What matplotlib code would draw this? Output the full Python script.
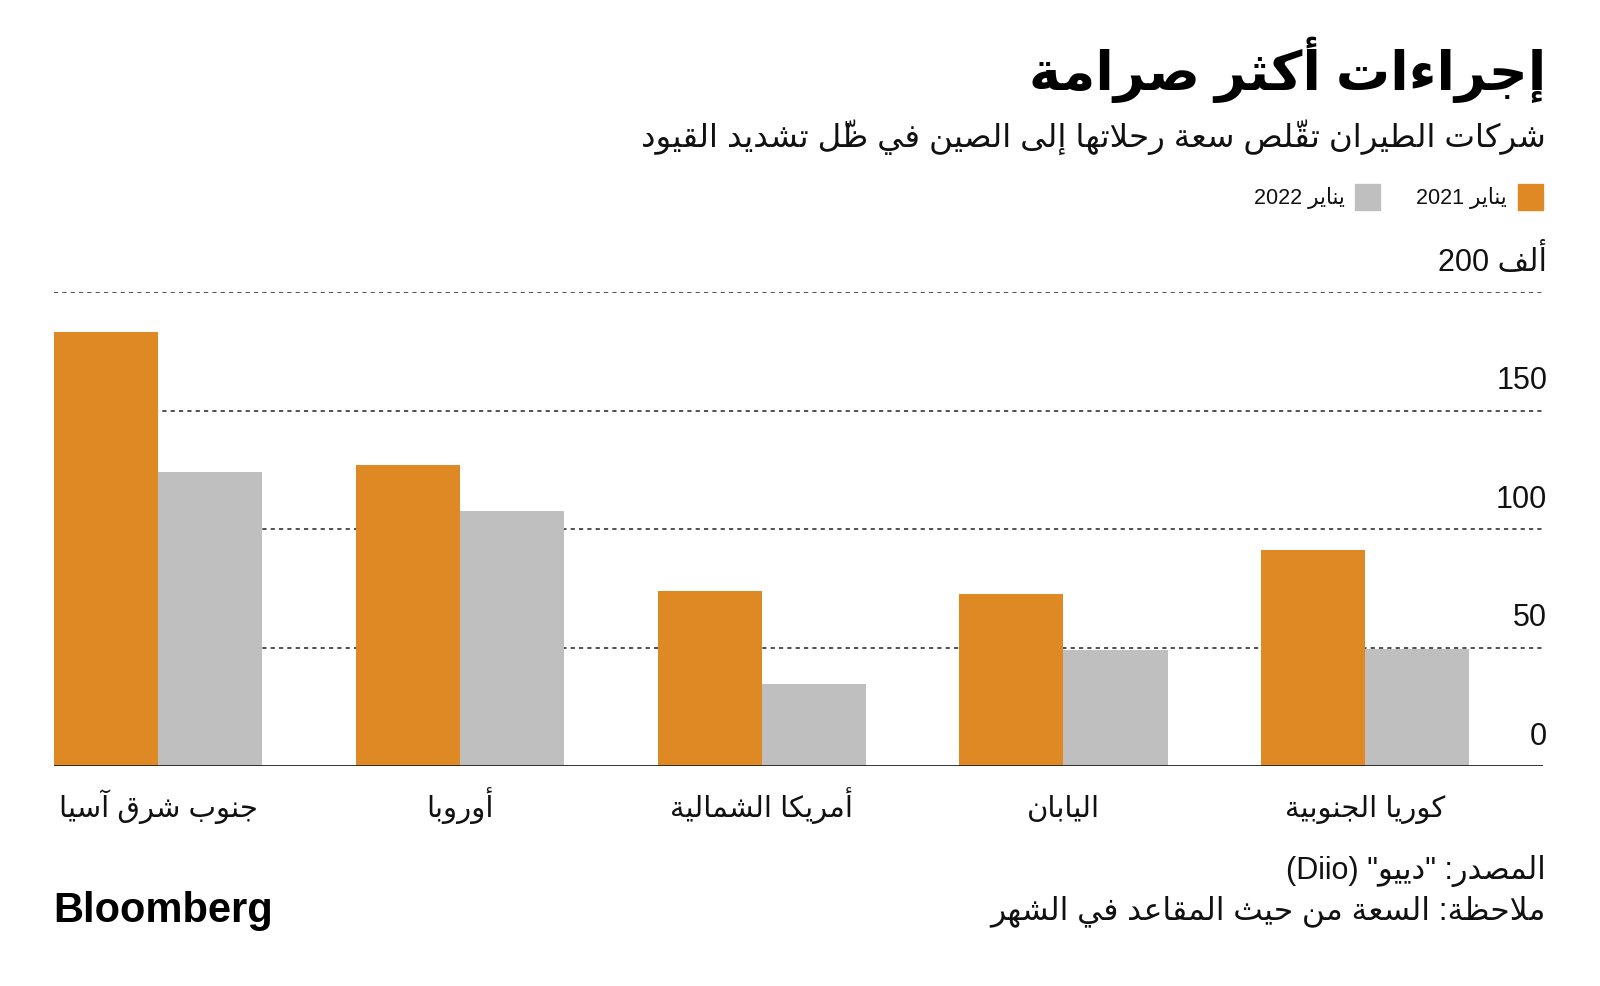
import matplotlib
matplotlib.use('Agg')
import matplotlib.pyplot as plt
import numpy as np

# البيانات (بالألف مقعد شهرياً)
regions = ['جنوب شرق آسيا', 'أوروبا', 'أمريكا الشمالية', 'اليابان', 'كوريا الجنوبية']
jan_2021 = [183, 127, 74, 72.5, 91]
jan_2022 = [124, 107.5, 34.5, 49, 49.5]
series_names = ['يناير 2021', 'يناير 2022']
y_ticks = [0, 50, 100, 150, 200]
y_tick_labels = ['0', '50', '100', '150', 'ألف 200']

title = 'إجراءات أكثر صرامة'
subtitle = 'شركات الطيران تقلّص سعة رحلاتها إلى الصين في ظلّ تشديد القيود'
source = 'المصدر: "دييو" (Diio)'
note = 'ملاحظة: السعة من حيث المقاعد في الشهر'

ORANGE = '#DE8923'
GREY = '#BFBFBF'

# تشكيل الحروف العربية يدوياً (matplotlib لا يقوم بذلك)
# (منفصل، نهائي، بدائي، وسطي)
FORMS = {
    '\u0621': ('\uFE80', None, None, None),
    '\u0622': ('\uFE81', '\uFE82', None, None),
    '\u0623': ('\uFE83', '\uFE84', None, None),
    '\u0624': ('\uFE85', '\uFE86', None, None),
    '\u0625': ('\uFE87', '\uFE88', None, None),
    '\u0626': ('\uFE89', '\uFE8A', '\uFE8B', '\uFE8C'),
    '\u0627': ('\uFE8D', '\uFE8E', None, None),
    '\u0628': ('\uFE8F', '\uFE90', '\uFE91', '\uFE92'),
    '\u0629': ('\uFE93', '\uFE94', None, None),
    '\u062A': ('\uFE95', '\uFE96', '\uFE97', '\uFE98'),
    '\u062B': ('\uFE99', '\uFE9A', '\uFE9B', '\uFE9C'),
    '\u062C': ('\uFE9D', '\uFE9E', '\uFE9F', '\uFEA0'),
    '\u062D': ('\uFEA1', '\uFEA2', '\uFEA3', '\uFEA4'),
    '\u062E': ('\uFEA5', '\uFEA6', '\uFEA7', '\uFEA8'),
    '\u062F': ('\uFEA9', '\uFEAA', None, None),
    '\u0630': ('\uFEAB', '\uFEAC', None, None),
    '\u0631': ('\uFEAD', '\uFEAE', None, None),
    '\u0632': ('\uFEAF', '\uFEB0', None, None),
    '\u0633': ('\uFEB1', '\uFEB2', '\uFEB3', '\uFEB4'),
    '\u0634': ('\uFEB5', '\uFEB6', '\uFEB7', '\uFEB8'),
    '\u0635': ('\uFEB9', '\uFEBA', '\uFEBB', '\uFEBC'),
    '\u0636': ('\uFEBD', '\uFEBE', '\uFEBF', '\uFEC0'),
    '\u0637': ('\uFEC1', '\uFEC2', '\uFEC3', '\uFEC4'),
    '\u0638': ('\uFEC5', '\uFEC6', '\uFEC7', '\uFEC8'),
    '\u0639': ('\uFEC9', '\uFECA', '\uFECB', '\uFECC'),
    '\u063A': ('\uFECD', '\uFECE', '\uFECF', '\uFED0'),
    '\u0641': ('\uFED1', '\uFED2', '\uFED3', '\uFED4'),
    '\u0642': ('\uFED5', '\uFED6', '\uFED7', '\uFED8'),
    '\u0643': ('\uFED9', '\uFEDA', '\uFEDB', '\uFEDC'),
    '\u0644': ('\uFEDD', '\uFEDE', '\uFEDF', '\uFEE0'),
    '\u0645': ('\uFEE1', '\uFEE2', '\uFEE3', '\uFEE4'),
    '\u0646': ('\uFEE5', '\uFEE6', '\uFEE7', '\uFEE8'),
    '\u0647': ('\uFEE9', '\uFEEA', '\uFEEB', '\uFEEC'),
    '\u0648': ('\uFEED', '\uFEEE', None, None),
    '\u0649': ('\uFEEF', '\uFEF0', None, None),
    '\u064A': ('\uFEF1', '\uFEF2', '\uFEF3', '\uFEF4'),
}
LAM_ALEF = {'\u0622': ('\uFEF5', '\uFEF6'), '\u0623': ('\uFEF7', '\uFEF8'),
            '\u0625': ('\uFEF9', '\uFEFA'), '\u0627': ('\uFEFB', '\uFEFC')}
MIRROR = {'(': ')', ')': '('}


def is_mark(c):
    return '\u064B' <= c <= '\u0652'


def shape(s):
    chars = list(s)
    # دمج لام-ألف
    merged = []
    i = 0
    while i < len(chars):
        c = chars[i]
        if c == '\u0644' and i + 1 < len(chars) and chars[i + 1] in LAM_ALEF:
            merged.append(('LA', chars[i + 1]))
            i += 2
        else:
            merged.append(c)
            i += 1

    def dual(item):
        if isinstance(item, tuple):
            return False
        return item in FORMS and FORMS[item][2] is not None

    def joins(item):
        return isinstance(item, tuple) or item in FORMS and item != '\u0621'

    out = []
    for k, item in enumerate(merged):
        if isinstance(item, str) and is_mark(item):
            out.append(item)
            continue
        # الحرف السابق واللاحق مع تجاوز الحركات
        p = k - 1
        while p >= 0 and isinstance(merged[p], str) and is_mark(merged[p]):
            p -= 1
        n = k + 1
        while n < len(merged) and isinstance(merged[n], str) and is_mark(merged[n]):
            n += 1
        prev_j = p >= 0 and dual(merged[p])
        if isinstance(item, tuple):
            iso, fin = LAM_ALEF[item[1]]
            out.append(fin if prev_j else iso)
            continue
        if item not in FORMS:
            out.append(item)
            continue
        next_j = dual(item) and n < len(merged) and joins(merged[n])
        iso, fin, ini, med = FORMS[item]
        if prev_j and next_j:
            out.append(med)
        elif prev_j:
            out.append(fin)
        elif next_j:
            out.append(ini)
        else:
            out.append(iso)
    return ''.join(out)


def ar(s):
    shaped = shape(s)
    # تجميع الحرف مع حركاته
    clusters = []
    for c in shaped:
        if is_mark(c) and clusters:
            clusters[-1] += c
        else:
            clusters.append(c)
    # تقسيم إلى مقاطع لاتينية/أرقام ومقاطع عربية
    runs = []
    for cl in clusters:
        ltr = cl[0].isascii() and cl[0].isalnum()
        if runs and runs[-1][0] == ltr:
            runs[-1][1].append(cl)
        else:
            runs.append([ltr, [cl]])
    text = ''
    for ltr, cls in reversed(runs):
        if ltr:
            text += ''.join(cls)
        else:
            text += ''.join(MIRROR.get(c, c) for c in reversed(cls))
    return text


FONT = ['Liberation Sans', 'DejaVu Sans']

fig = plt.figure(figsize=(16, 9.87), dpi=100)
ax = fig.add_axes([0.03375, 0.2229, 0.93065, 0.4802])

x = np.arange(len(regions))
w = 0.345
ax.bar(x - w, jan_2021, width=w, align='edge', color=ORANGE, zorder=2)
ax.bar(x, jan_2022, width=w, align='edge', color=GREY, zorder=2)

ax.set_xlim(-w, len(regions) - 1 + w + 0.244)
ax.set_ylim(0, 200)
for t in y_ticks[1:]:
    ax.axhline(t, color='#333333', lw=1.2, ls=(0, (2.5, 2.5)), zorder=1)
ax.axhline(0, color='#222222', lw=2, zorder=3)
for s in ax.spines.values():
    s.set_visible(False)
ax.set_xticks([])
ax.set_yticks([])

# تسميات المحور الصادي فوق خطوط الشبكة
for t, lab in zip(y_ticks, y_tick_labels):
    ax.annotate(ar(lab), (1, t), xycoords=('axes fraction', 'data'),
                xytext=(3, 11), textcoords='offset points',
                ha='right', va='bottom', fontsize=22,
                family=FONT, color='#111111')

for xi, name in zip(x, regions):
    ax.annotate(ar(name), (xi, 0), xycoords='data', xytext=(0, -36),
                textcoords='offset points', ha='center', va='baseline',
                fontsize=21, family=FONT, color='#111111')

R = 1546 / 1600
fig.text(R, 1 - 70 / 987, ar(title), ha='right', va='center', fontsize=39,
         fontweight='bold', family=FONT, color='black')
fig.text(R, 1 - 137 / 987, ar(subtitle), ha='right', va='center', fontsize=23.4,
         family=FONT, color='#111111')

# وسيلة الإيضاح
for sq_left, txt_right, col, name in [(1518, 1507, ORANGE, series_names[0]),
                                       (1355, 1345, GREY, series_names[1])]:
    fig.patches.append(plt.Rectangle((sq_left / 1600, 1 - 211 / 987), 25 / 1600, 26 / 987,
                                     transform=fig.transFigure, color=col, figure=fig))
    fig.text(txt_right / 1600, 1 - 198 / 987, ar(name), ha='right', va='center',
             fontsize=15.5, family=FONT, color='#111111')

fig.text(R, 1 - 871 / 987, ar(source), ha='right', va='center', fontsize=22,
         family=FONT, color='#111111')
fig.text(R, 1 - 911 / 987, ar(note), ha='right', va='center', fontsize=22.6,
         family=FONT, color='#111111')
fig.text(53 / 1600, 1 - 911 / 987, 'Bloomberg', ha='left', va='center', fontsize=30,
         fontweight='bold', family=['Liberation Sans', 'DejaVu Sans'], color='black')

fig.savefig('out.png', dpi=100, facecolor='white')
